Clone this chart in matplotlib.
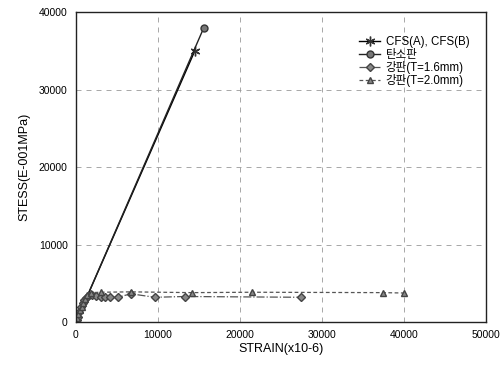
import matplotlib
matplotlib.use("Agg")
import matplotlib.pyplot as plt

plt.rcParams['font.family'] = ['Liberation Sans', 'Noto Sans CJK KR', 'DejaVu Sans']

# dati
cfs_strain = [0, 14500]
cfs_stress = [0, 35000]

carbon_strain = [0, 15600]
carbon_stress = [0, 38000]

steel16_strain = [0, 100, 200, 400, 600, 800, 1000, 1200, 1500, 2000, 2500, 3000,
                  3500, 4200, 5100, 6700, 9600, 13300, 27500]
steel16_stress = [0, 300, 700, 1300, 1900, 2400, 2800, 3100, 3400, 3500, 3400, 3300,
                  3250, 3200, 3200, 3650, 3200, 3300, 3200]

steel20_strain = [0, 150, 300, 500, 700, 900, 1100, 1400, 1800, 3000, 6700, 14100,
                  21500, 37400, 40000]
steel20_stress = [0, 500, 1000, 1500, 2000, 2500, 3000, 3500, 3800, 3850, 3900, 3800,
                  3850, 3800, 3750]

labels = ["CFS(A), CFS(B)", "탄소판", "강판(T=1.6mm)", "강판(T=2.0mm)"]

fig = plt.figure(figsize=(5.03, 3.66), dpi=100)
ax = fig.add_axes([0.151, 0.12, 0.815, 0.847])

ax.plot(cfs_strain, cfs_stress, color="black", lw=1.0, marker=(6, 2, 0),
        markersize=7, markeredgecolor="#333333", label=labels[0])
ax.plot(carbon_strain, carbon_stress, color="#222222", lw=1.0, marker="o",
        markersize=5, markerfacecolor="#777777", markeredgecolor="#333333", label=labels[1])
ax.plot(steel16_strain, steel16_stress, color="#555555", lw=0.9, ls="-.", marker="D",
        markersize=4, markerfacecolor="#888888", markeredgecolor="#444444", label=labels[2])
ax.plot(steel20_strain, steel20_stress, color="#555555", lw=0.9, ls=(0, (3, 2)), marker="^",
        markersize=5, markerfacecolor="#888888", markeredgecolor="#444444", label=labels[3])

ax.set_xlim(0, 50000)
ax.set_ylim(0, 40000)
ax.set_xticks([0, 10000, 20000, 30000, 40000, 50000])
ax.set_yticks([0, 10000, 20000, 30000, 40000])
ax.tick_params(labelsize=7.5, length=0, pad=6)
ax.grid(True, ls=(0, (6, 6)), color="#999999", lw=0.6)

for s in ax.spines.values():
    s.set_linewidth(1.0)
    s.set_color("#222222")

ax.set_xlabel("STRAIN(x10-6)", fontsize=9, labelpad=2)
ax.set_ylabel("STESS(E-001MPa)", fontsize=9, labelpad=6)

ax.legend(loc="upper right", bbox_to_anchor=(0.985, 0.955), frameon=False, fontsize=8.3,
          handlelength=1.8, labelspacing=0.02, handletextpad=0.5)

fig.savefig("out.png", dpi=100)
